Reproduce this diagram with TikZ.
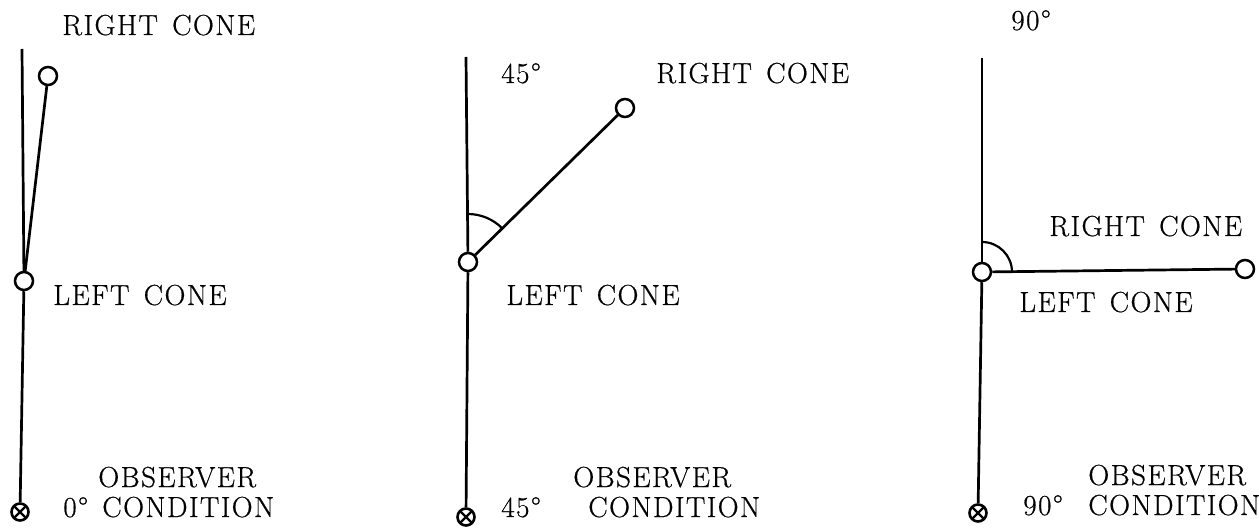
\documentclass[tikz,border=0pt]{standalone}
\usepackage{fontspec}
\newfontfamily\labfont{Latin Modern Roman}[LetterSpace=5,WordSpace=1.4,FakeBold=0.6]
\begin{document}
\begin{tikzpicture}[x=1pt,y=1pt,line width=2.7pt,
  cone/.style={circle,draw,fill=white,minimum size=18pt,inner sep=0pt,line width=2.5pt},
  obs/.style={circle,draw,minimum size=17pt,inner sep=0pt,line width=2.6pt,
    path picture={\draw[line width=2.2pt] (path picture bounding box.north west) -- (path picture bounding box.south east)
      (path picture bounding box.north east) -- (path picture bounding box.south west);}},
  lab/.style={anchor=base west,inner sep=0pt,font=\labfont\fontsize{29}{31}\selectfont}]
\useasboundingbox (0,0) rectangle (1259,-529);
% panel 1
\node[obs] (o1) at (20,-512) {};
\node[cone] (l1) at (24,-281) {};
\node[cone] (r1) at (48,-76) {};
\coordinate (t1) at (22,-49);
\draw (o1) -- (l1);
\draw (l1) -- (t1);
\draw (l1) -- (r1);
\node[lab] (rc1) at (61,-35) {RIGHT CONE};
\node[lab] (lc1) at (52,-305) {LEFT CONE};
\node[lab] (ob1) at (97,-487) {OBSERVER};
\node[lab] (cd1) at (62,-517) {0° CONDITION};
% panel 2
\node[obs] (o2) at (466,-517) {};
\node[cone] (l2) at (468,-262) {};
\node[cone] (r2) at (625,-108) {};
\coordinate (t2) at (466,-57);
\draw (o2) -- (l2);
\draw (l2) -- (t2);
\draw (l2) -- (r2);
\draw[line width=2.2pt] ([shift={(90:48)}]l2.center) arc[start angle=90,end angle=45,radius=48];
\node[lab] (a2) at (500,-83) {45°};
\node[lab] (rc2) at (655,-83) {RIGHT CONE};
\node[lab] (lc2) at (505,-305) {LEFT CONE};
\node[lab] (ob2) at (572,-487) {OBSERVER};
\node[lab] (d2) at (500,-517) {45°};
\node[lab] (cd2) at (587,-517) {CONDITION};
% panel 3
\node[obs] (o3) at (978,-513) {};
\node[cone] (l3) at (982,-272) {};
\node[cone] (r3) at (1245,-269) {};
\coordinate (t3) at (982,-58);
\draw (o3) -- (l3);
\draw (l3) -- (t3);
\draw (l3) -- (r3);
\draw[line width=2.2pt] ([shift={(90:30)}]l3.center) arc[start angle=90,end angle=0,radius=30];
\node[lab] (a3) at (1010,-30) {90°};
\node[lab] (rc3) at (1048,-236) {RIGHT CONE};
\node[lab] (lc3) at (1018,-312) {LEFT CONE};
\node[lab] (ob3) at (1087,-485) {OBSERVER};
\node[lab] (d3) at (1022,-515) {90°};
\node[lab] (cd3) at (1087,-515) {CONDITION};
\end{tikzpicture}
\end{document}
